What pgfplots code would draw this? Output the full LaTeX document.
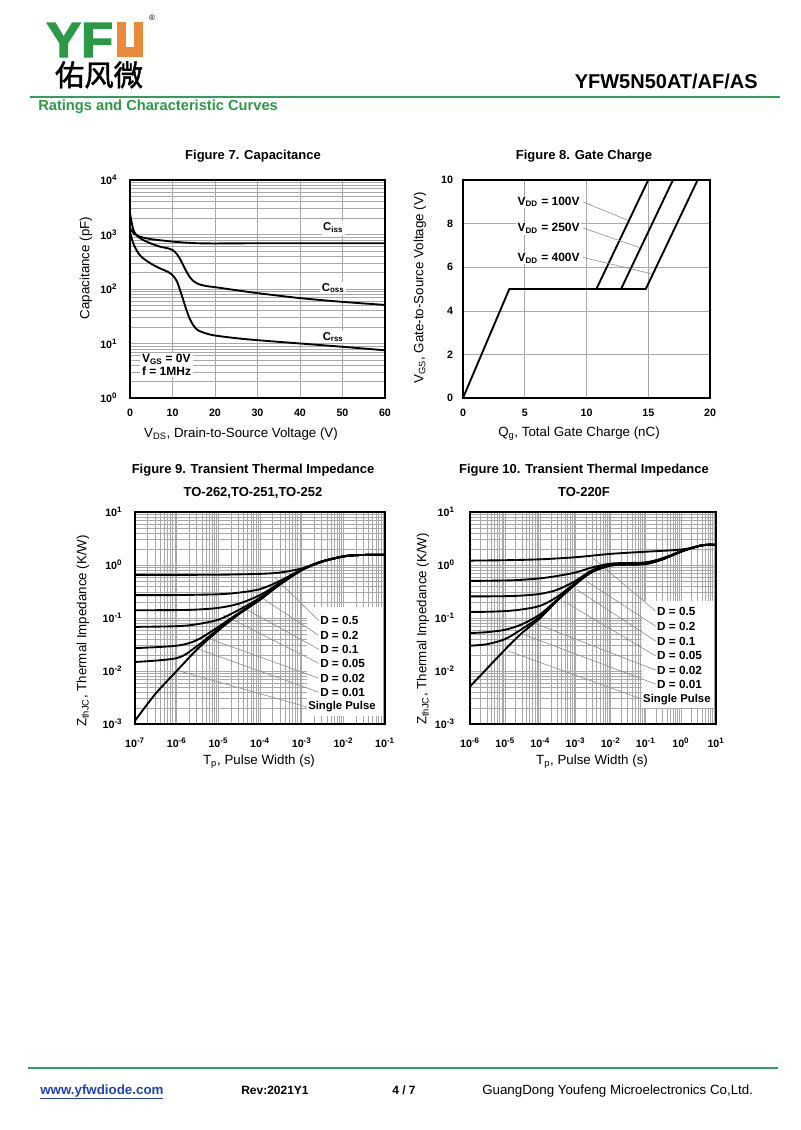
\documentclass[border=0pt]{standalone}
\usepackage{pgfplots}
\pgfplotsset{compat=1.18}
\usepackage{fontspec}
\setmainfont{Liberation Sans}
\newfontfamily\cjk{Noto Sans CJK SC}[FakeBold=1.5]
\newfontfamily\heavy{Liberation Sans}[UprightFeatures={FakeBold=2.5},BoldFeatures={FakeBold=2.5}]
\definecolor{ygreen}{HTML}{2A9A45}
\definecolor{yorange}{HTML}{EC8A3C}
\definecolor{lgreen}{HTML}{2FA05C}
\definecolor{gridc}{gray}{0.66}
\definecolor{leadc}{gray}{0.55}
\definecolor{linkc}{HTML}{2140C0}
\newcommand\fsz[1]{\fontsize{#1}{#1}\selectfont}
\tikzset{lead/.style={draw=leadc, line width=0.45pt}}
\pgfplotsset{
  dsaxis/.style={scale only axis, anchor=south west,
    axis line style={line width=1.3pt},
    major tick length=0pt, minor tick length=0pt,
    major grid style={draw=gridc, line width=0.4pt},
    minor grid style={draw=gridc, line width=0.35pt},
    ticklabel style={font=\bfseries\fsz{8}},
    /pgf/number format/assume math mode=true},
  curve/.style={black, line width=1.4pt, no markers},
}
\begin{document}
\begin{tikzpicture}[x=0.75pt,y=0.75pt]
\fill[white] (0,0) rectangle (800,1130);
\path[use as bounding box] (0,0) rectangle (800,1130);

% ---------- header ----------
\node[anchor=base west, inner sep=0, text depth=0pt, text height=27pt, text=ygreen, font=\heavy\bfseries\fsz{37}] at (46,{1130-57}) {\scalebox{1.06}[1]{YF}};
\fill[yorange] (117,{1130-22}) rectangle (143,{1130-57});
\fill[white] (126,{1130-22}) rectangle (134,{1130-47});
\node[font=\fsz{6}] at (152,{1130-18}) {\textregistered};
\node[anchor=base, inner sep=0, text height=16pt, text depth=2pt, font=\cjk\fsz{22}] at (99,{1130-86}) {佑风微};
\draw[lgreen, line width=1.9pt] (30,{1130-97}) -- (780,{1130-97});
\node[anchor=base east, inner sep=0, font=\bfseries\fsz{15}] at (758,{1130-89}) {YFW5N50AT/AF/AS};
\node[anchor=base west, inner sep=0, text=ygreen, font=\bfseries\fsz{11}] at (38,{1130-111}) {Ratings and Characteristic Curves};

% ---------- titles ----------
\begin{scope}[every node/.style={font=\bfseries\fsz{9.75}, inner sep=0}]
\node[anchor=base] at (253,{1130-160}) {Figure 7. Capacitance};
\node[anchor=base] at (584,{1130-160}) {Figure 8. Gate Charge};
\node[anchor=base] at (253,{1130-474}) {Figure 9. Transient Thermal Impedance};
\node[anchor=base] at (253,{1130-497}) {TO-262,TO-251,TO-252};
\node[anchor=base] at (584,{1130-474}) {Figure 10. Transient Thermal Impedance};
\node[anchor=base] at (584,{1130-497}) {TO-220F};
\end{scope}

% ---------- axis labels ----------
\begin{scope}[every node/.style={font=\fsz{10}, inner sep=0}]
\node at (241,{1130-434}) {V\textsubscript{DS}, Drain-to-Source Voltage (V)};
\node[rotate=90] at (86,{1130-268}) {Capacitance (pF)};
\node at (579,{1130-434}) {Q\textsubscript{g}, Total Gate Charge (nC)};
\node[rotate=90] at (420,{1130-288}) {V\textsubscript{GS}, Gate-to-Source Voltage (V)};
\node at (259,{1130-762}) {T\textsubscript{p}, Pulse Width (s)};
\node[rotate=90] at (83,{1130-631}) {Z\textsubscript{thJC}, Thermal Impedance (K/W)};
\node at (592,{1130-762}) {T\textsubscript{p}, Pulse Width (s)};
\node[rotate=90] at (423,{1130-629}) {Z\textsubscript{thJC}, Thermal Impedance (K/W)};
\end{scope}

% ---------- Figure 7 ----------
\begin{axis}[dsaxis, at={(97.5pt,549pt)}, width=191.25pt, height=163.5pt,
  xmin=0, xmax=60, ymode=log, ymin=1, ymax=10000,
  xtick={0,10,...,60}, ytick={1,10,100,1000,10000},
  yticklabels={10\textsuperscript{0},10\textsuperscript{1},10\textsuperscript{2},10\textsuperscript{3},10\textsuperscript{4}},
  xmajorgrids, ymajorgrids, yminorgrids,
  xticklabel style={yshift=-5pt}, yticklabel style={xshift=-6pt}]
\addplot[curve, smooth] coordinates {
 (0,1320) (0.5,1150) (1,1020) (2,930) (3,880) (5,820) (8,770) (10,740)
 (13,710) (16,690) (20,685) (30,690) (40,690) (50,690) (60,690)};
\addplot[curve, smooth] coordinates {
 (0,2470) (0.3,1800) (0.7,1300) (1.2,1050) (2,900) (3,800) (5,680) (7,600)
 (9,555) (10,520) (11,440) (12,330) (13,230) (14,168) (15,138) (16,124)
 (18,113) (20,108) (25,95) (30,84) (40,68) (50,58) (60,51)};
\addplot[curve, smooth] coordinates {
 (0,1120) (0.5,800) (1,620) (2,450) (3,370) (5,290) (7,240) (9,205) (10,180)
 (11,140) (12,85) (13,48) (14,29) (15,21) (16,17.5) (18,15.2) (20,14) (25,12.5)
 (30,11.5) (40,10) (50,8.7) (60,7.5)};
\node[fill=white, inner sep=1.2pt, font=\bfseries\fsz{8.5}] at (axis cs:47.8,1318) {C\textsubscript{iss}};
\node[fill=white, inner sep=1.2pt, font=\bfseries\fsz{8.5}] at (axis cs:47.8,104) {C\textsubscript{oss}};
\node[fill=white, inner sep=1.2pt, font=\bfseries\fsz{8.5}] at (axis cs:47.8,13.2) {C\textsubscript{rss}};
\node[fill=white, inner sep=1.2pt, anchor=north west, align=left, font=\bfseries\fontsize{9}{9.5}\selectfont] at (axis cs:2.4,6.8) {V\textsubscript{GS} = 0V\\f = 1MHz};
\end{axis}

% ---------- Figure 8 ----------
\begin{axis}[dsaxis, at={(347.25pt,549pt)}, width=185.25pt, height=163.5pt,
  xmin=0, xmax=20, ymin=0, ymax=10,
  xtick={0,5,...,20}, ytick={0,2,...,10},
  xmajorgrids, ymajorgrids,
  xticklabel style={yshift=-5pt}, yticklabel style={xshift=-4pt}]
\addplot[curve] coordinates {(0,0) (3.75,5) (10.8,5) (15,10)};
\addplot[curve] coordinates {(3.75,5) (12.8,5) (17,10)};
\addplot[curve] coordinates {(3.75,5) (14.8,5) (19,10)};
\draw[lead] (axis cs:9.7,9.0) -- (axis cs:13.35,8.15);
\draw[lead] (axis cs:9.7,7.8) -- (axis cs:14.3,6.9);
\draw[lead] (axis cs:9.7,6.45) -- (axis cs:15.25,5.7);
\node[fill=white, inner sep=1pt, anchor=west, font=\bfseries\fsz{9}] at (axis cs:4.3,9.0) {V\textsubscript{DD} = 100V};
\node[fill=white, inner sep=1pt, anchor=west, font=\bfseries\fsz{9}] at (axis cs:4.3,7.78) {V\textsubscript{DD} = 250V};
\node[fill=white, inner sep=1pt, anchor=west, font=\bfseries\fsz{9}] at (axis cs:4.3,6.41) {V\textsubscript{DD} = 400V};
\end{axis}

% ---------- Figure 9 ----------
\begin{axis}[dsaxis, at={(101.25pt,304.5pt)}, width=187.5pt, height=159pt,
  xmode=log, ymode=log, xmin=1e-7, xmax=1e-1, ymin=1e-3, ymax=10,
  xtick={1e-7,1e-6,1e-5,1e-4,1e-3,1e-2,1e-1},
  xticklabels={10\textsuperscript{-7},10\textsuperscript{-6},10\textsuperscript{-5},10\textsuperscript{-4},10\textsuperscript{-3},10\textsuperscript{-2},10\textsuperscript{-1}},
  ytick={1e-3,1e-2,1e-1,1,10},
  yticklabels={10\textsuperscript{-3},10\textsuperscript{-2},10\textsuperscript{-1},10\textsuperscript{0},10\textsuperscript{1}},
  grid=both,
  xticklabel style={yshift=-7pt}, yticklabel style={xshift=-6pt}]
\fill[white] (rel axis cs:0.688,0.04) rectangle (rel axis cs:0.993,0.55);
\draw[lead] (rel axis cs:0.56,0.69) -- (rel axis cs:0.735,0.488);
\draw[lead] (rel axis cs:0.488,0.61) -- (rel axis cs:0.735,0.418);
\draw[lead] (rel axis cs:0.412,0.563) -- (rel axis cs:0.735,0.352);
\draw[lead] (rel axis cs:0.352,0.516) -- (rel axis cs:0.735,0.286);
\draw[lead] (rel axis cs:0.272,0.413) -- (rel axis cs:0.735,0.216);
\draw[lead] (rel axis cs:0.232,0.362) -- (rel axis cs:0.735,0.150);
\draw[lead] (rel axis cs:0.18,0.249) -- (rel axis cs:0.688,0.080);
\addplot[curve, smooth] coordinates {(1e-7,0.65) (1e-6,0.651) (1e-5,0.655) (3e-5,0.665) (1e-4,0.68) (3e-4,0.72) (1e-3,0.86) (3e-3,1.17) (1e-2,1.45) (2e-2,1.53) (4e-2,1.55) (1e-1,1.55)};
\addplot[curve, smooth] coordinates {(1e-7,0.27) (1e-6,0.271) (1e-5,0.28) (3e-5,0.30) (1e-4,0.35) (3e-4,0.5) (1e-3,0.82) (3e-3,1.16) (1e-2,1.45) (2e-2,1.53) (4e-2,1.55) (1e-1,1.55)};
\addplot[curve, smooth] coordinates {(1e-7,0.14) (1e-6,0.141) (3e-6,0.144) (1e-5,0.155) (3e-5,0.185) (1e-4,0.27) (3e-4,0.46) (1e-3,0.81) (3e-3,1.15) (1e-2,1.45) (2e-2,1.53) (4e-2,1.55) (1e-1,1.55)};
\addplot[curve, smooth] coordinates {(1e-7,0.068) (1e-6,0.070) (3e-6,0.076) (1e-5,0.093) (3e-5,0.14) (1e-4,0.24) (3e-4,0.44) (1e-3,0.805) (3e-3,1.15) (1e-2,1.45) (2e-2,1.53) (4e-2,1.55) (1e-1,1.55)};
\addplot[curve, smooth] coordinates {(1e-7,0.027) (1e-6,0.030) (3e-6,0.038) (1e-5,0.068) (3e-5,0.122) (1e-4,0.226) (3e-4,0.432) (1e-3,0.80) (3e-3,1.15) (1e-2,1.45) (2e-2,1.53) (4e-2,1.55) (1e-1,1.55)};
\addplot[curve, smooth] coordinates {(1e-7,0.0148) (1e-6,0.0175) (3e-6,0.029) (1e-5,0.062) (3e-5,0.118) (1e-4,0.222) (3e-4,0.43) (1e-3,0.80) (3e-3,1.15) (1e-2,1.45) (2e-2,1.53) (4e-2,1.55) (1e-1,1.55)};
\addplot[curve, smooth] coordinates {(1e-7,0.00115) (3e-7,0.0036) (1e-6,0.0100) (3e-6,0.025) (1e-5,0.058) (3e-5,0.115) (1e-4,0.22) (3e-4,0.43) (1e-3,0.80) (3e-3,1.15) (1e-2,1.45) (2e-2,1.53) (4e-2,1.55) (1e-1,1.55)};
\node[inner sep=0, anchor=west, font=\bfseries\fsz{8.8}] at (rel axis cs:0.74,0.488) {D = 0.5};
\node[inner sep=0, anchor=west, font=\bfseries\fsz{8.8}] at (rel axis cs:0.74,0.418) {D = 0.2};
\node[inner sep=0, anchor=west, font=\bfseries\fsz{8.8}] at (rel axis cs:0.74,0.352) {D = 0.1};
\node[inner sep=0, anchor=west, font=\bfseries\fsz{8.8}] at (rel axis cs:0.74,0.286) {D = 0.05};
\node[inner sep=0, anchor=west, font=\bfseries\fsz{8.8}] at (rel axis cs:0.74,0.216) {D = 0.02};
\node[inner sep=0, anchor=west, font=\bfseries\fsz{8.8}] at (rel axis cs:0.74,0.150) {D = 0.01};
\node[inner sep=0, anchor=west, font=\bfseries\fsz{8.5}] at (rel axis cs:0.692,0.080) {Single Pulse};
\end{axis}

% ---------- Figure 10 ----------
\begin{axis}[dsaxis, at={(352.5pt,304.5pt)}, width=184.5pt, height=159pt,
  xmode=log, ymode=log, xmin=1e-6, xmax=10, ymin=1e-3, ymax=10,
  xtick={1e-6,1e-5,1e-4,1e-3,1e-2,1e-1,1,10},
  xticklabels={10\textsuperscript{-6},10\textsuperscript{-5},10\textsuperscript{-4},10\textsuperscript{-3},10\textsuperscript{-2},10\textsuperscript{-1},10\textsuperscript{0},10\textsuperscript{1}},
  ytick={1e-3,1e-2,1e-1,1,10},
  yticklabels={10\textsuperscript{-3},10\textsuperscript{-2},10\textsuperscript{-1},10\textsuperscript{0},10\textsuperscript{1}},
  grid=both,
  xticklabel style={yshift=-7pt}, yticklabel style={xshift=-8pt}]
\fill[white] (rel axis cs:0.699,0.075) rectangle (rel axis cs:0.993,0.58);
\draw[lead] (rel axis cs:0.501,0.781) -- (rel axis cs:0.755,0.532);
\draw[lead] (rel axis cs:0.474,0.673) -- (rel axis cs:0.755,0.461);
\draw[lead] (rel axis cs:0.434,0.634) -- (rel axis cs:0.755,0.391);
\draw[lead] (rel axis cs:0.38,0.58) -- (rel axis cs:0.755,0.321);
\draw[lead] (rel axis cs:0.258,0.477) -- (rel axis cs:0.755,0.254);
\draw[lead] (rel axis cs:0.217,0.423) -- (rel axis cs:0.755,0.188);
\draw[lead] (rel axis cs:0.156,0.344) -- (rel axis cs:0.70,0.117);
\addplot[curve, smooth] coordinates {(1e-6,1.21) (1e-5,1.23) (1e-4,1.28) (1e-3,1.4) (1e-2,1.62) (1e-1,1.78) (6e-1,1.9) (1.5,2.03) (3,2.25) (4,2.35) (7,2.42) (10,2.38)};
\addplot[curve, smooth] coordinates {(1e-6,0.50) (1e-5,0.51) (3e-5,0.525) (1e-4,0.56) (3e-4,0.62) (1e-3,0.72) (3e-3,0.9) (1e-2,1.06) (3e-2,1.09) (1e-1,1.12) (3e-1,1.34) (1,1.82) (2,2.08) (4,2.35) (7,2.42) (10,2.38)};
\addplot[curve, smooth] coordinates {(1e-6,0.255) (1e-5,0.258) (3e-5,0.265) (1e-4,0.285) (3e-4,0.34) (1e-3,0.5) (3e-3,0.8) (1e-2,1.03) (3e-2,1.07) (1e-1,1.1) (3e-1,1.32) (1,1.8) (2,2.08) (4,2.35) (7,2.42) (10,2.38)};
\addplot[curve, smooth] coordinates {(1e-6,0.13) (3e-6,0.131) (1e-5,0.135) (3e-5,0.145) (1e-4,0.17) (3e-4,0.25) (1e-3,0.46) (3e-3,0.77) (1e-2,1.01) (3e-2,1.05) (1e-1,1.08) (3e-1,1.3) (1,1.79) (2,2.08) (4,2.35) (7,2.42) (10,2.38)};
\addplot[curve, smooth] coordinates {(1e-6,0.052) (3e-6,0.054) (1e-5,0.06) (3e-5,0.076) (1e-4,0.118) (3e-4,0.222) (1e-3,0.44) (3e-3,0.75) (1e-2,0.99) (3e-2,1.03) (1e-1,1.06) (3e-1,1.29) (1,1.78) (2,2.08) (4,2.35) (7,2.42) (10,2.38)};
\addplot[curve, smooth] coordinates {(1e-6,0.030) (3e-6,0.032) (1e-5,0.04) (3e-5,0.062) (1e-4,0.107) (3e-4,0.215) (1e-3,0.435) (3e-3,0.745) (1e-2,0.98) (3e-2,1.02) (1e-1,1.05) (3e-1,1.28) (1,1.78) (2,2.08) (4,2.35) (7,2.42) (10,2.38)};
\addplot[curve, smooth] coordinates {(1e-6,0.0051) (3e-6,0.011) (1e-5,0.0255) (3e-5,0.052) (1e-4,0.1) (3e-4,0.21) (1e-3,0.43) (3e-3,0.74) (1e-2,0.97) (3e-2,1.01) (1e-1,1.04) (3e-1,1.27) (1,1.78) (2,2.08) (4,2.35) (7,2.42) (10,2.38)};
\node[inner sep=0, anchor=west, font=\bfseries\fsz{8.8}] at (rel axis cs:0.76,0.532) {D = 0.5};
\node[inner sep=0, anchor=west, font=\bfseries\fsz{8.8}] at (rel axis cs:0.76,0.461) {D = 0.2};
\node[inner sep=0, anchor=west, font=\bfseries\fsz{8.8}] at (rel axis cs:0.76,0.391) {D = 0.1};
\node[inner sep=0, anchor=west, font=\bfseries\fsz{8.8}] at (rel axis cs:0.76,0.321) {D = 0.05};
\node[inner sep=0, anchor=west, font=\bfseries\fsz{8.8}] at (rel axis cs:0.76,0.254) {D = 0.02};
\node[inner sep=0, anchor=west, font=\bfseries\fsz{8.8}] at (rel axis cs:0.76,0.188) {D = 0.01};
\node[inner sep=0, anchor=west, font=\bfseries\fsz{8.5}] at (rel axis cs:0.703,0.117) {Single Pulse};
\end{axis}

% ---------- footer ----------
\draw[lgreen, line width=1.9pt] (28,{1130-1068}) -- (778,{1130-1068});
\node[anchor=base west, inner sep=0, text=linkc, font=\bfseries\fsz{10}] at (40,{1130-1094}) {\underline{www.yfwdiode.com}};
\node[anchor=base west, inner sep=0, font=\bfseries\fsz{9}] at (241,{1130-1094}) {Rev:2021Y1};
\node[anchor=base west, inner sep=0, font=\bfseries\fsz{9}] at (392,{1130-1094}) {4 / 7};
\node[anchor=base west, inner sep=0, font=\fsz{10}] at (482,{1130-1094}) {GuangDong Youfeng Microelectronics Co,Ltd.};
\end{tikzpicture}
\end{document}
